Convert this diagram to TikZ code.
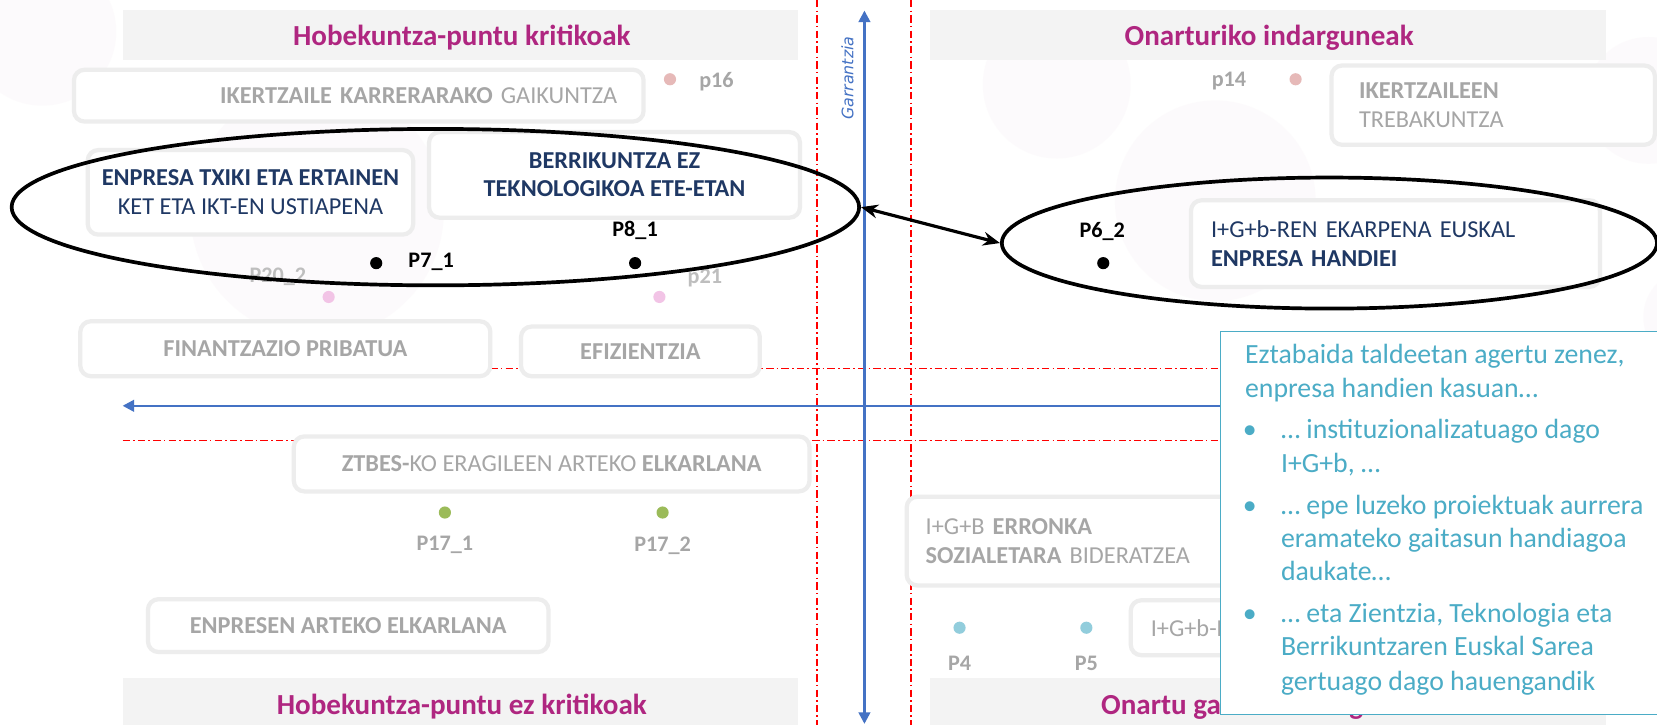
\documentclass[tikz,border=0pt]{standalone}
\usepackage{fontspec}
\setmainfont{Carlito}
\newfontfamily\gfont{DejaVu Sans}
\usetikzlibrary{arrows.meta,shapes.geometric}
\definecolor{mag}{RGB}{175,38,128}
\definecolor{hdrgray}{RGB}{243,243,243}
\definecolor{boxline}{RGB}{237,237,237}
\definecolor{txtgray}{RGB}{166,166,166}
\definecolor{lgray}{RGB}{190,190,190}
\definecolor{dblue}{RGB}{31,56,100}
\definecolor{axisblue}{RGB}{68,114,196}
\definecolor{tealc}{RGB}{75,172,198}
\definecolor{greendot}{RGB}{155,187,89}
\definecolor{lbluedot}{RGB}{146,205,220}
\definecolor{pinkdot}{RGB}{242,196,230}
\definecolor{rosedot}{RGB}{230,185,184}
\definecolor{blob}{RGB}{244,234,240}
\begin{document}
\begin{tikzpicture}[x=1pt,y=-1pt,
  hdr/.style={fill=hdrgray,draw=none},
  htext/.style={font=\bfseries\fontsize{27.5}{30}\selectfont,text=mag,inner sep=0},
  gbox/.style={draw=boxline,line width=4pt,rounded corners=10pt,fill=white,inner sep=0,
    font=\fontsize{23}{27}\selectfont},
  redline/.style={red,line width=1.2pt,dash pattern=on 7pt off 3pt on 1.5pt off 3pt},
  axis/.style={axisblue,line width=2.4pt},
  dotb/.style={circle,inner sep=0,minimum size=11.5pt,fill=black},
  dots/.style={circle,inner sep=0,minimum size=11.5pt},
  plab/.style={font=\bfseries\fontsize{21}{24}\selectfont,inner sep=0},
  ell/.style={draw=black,ellipse,line width=3.5pt,inner sep=0},
  cline/.style={anchor=mid west,inner sep=0,text=tealc,font=\fontsize{26.3}{30}\selectfont}
]
\useasboundingbox (0,0) rectangle (1568,686);
\fill[white] (0,0) rectangle (1568,686);
% faint background blobs
\foreach \bx/\by/\br in {40/30/70, 1150/190/95, 1560/95/60, 1600/300/45, 1580/560/55, 300/200/120, 1000/80/70}
  \fill[blob,opacity=0.2] (\bx,\by) circle[radius=\br];
% headers
\fill[hdr] (116,9) rectangle (755,57);
\fill[hdr] (880,9) rectangle (1520,57);
\fill[hdr] (116,642) rectangle (755,686);
\fill[hdr] (880,642) rectangle (1520,686);
\node[htext] (h1) at (437,36) {Hobekuntza-puntu kritikoak};
\node[htext] (h2) at (1201,36) {Onarturiko indarguneak};
\node[htext] (h3) at (437,669) {Hobekuntza-puntu ez kritikoak};
\node[htext] (h4) at (1201,669) {Onartu gabeko indarguneak};
% red dash-dot guide lines
\coordinate (rv1t) at (773,0); \coordinate (rv1b) at (773,686);
\coordinate (rv2t) at (862,0); \coordinate (rv2b) at (862,686);
\coordinate (rh1l) at (116,349); \coordinate (rh1r) at (1300,349);
\coordinate (rh2l) at (116,417); \coordinate (rh2r) at (1300,417);
\draw[redline] (rv1t) -- (rv1b);
\draw[redline] (rv2t) -- (rv2b);
\draw[redline] (rh1l) -- (rh1r);
\draw[redline] (rh2l) -- (rh2r);
% blue axes
\coordinate (vtop) at (818,10); \coordinate (vbot) at (818,685);
\coordinate (hleft) at (116,384); \coordinate (hright) at (1300,384);
\draw[axis,{Triangle[length=11pt,width=11pt]}-{Triangle[length=11pt,width=11pt]}] (vtop) -- (vbot);
\draw[axis,-{Triangle[length=11pt,width=11pt]}] (hright) -- (hleft);
\node[rotate=90,text=axisblue,font=\gfont\itshape\fontsize{15}{16}\selectfont,inner sep=0] (garr) at (802,74) {Garrantzia};
% boxes
\node[gbox,minimum width=539,minimum height=49,text width=489,align=right,text=txtgray] (b1) at (339.5,90.5)
  {\textbf{IKERTZAILE KARRERARAKO} GAIKUNTZA};
\node[gbox,minimum width=308,minimum height=80,align=center,text=dblue] (b2) at (237,182)
  {\textbf{ENPRESA TXIKI ETA ERTAINEN}\\KET ETA IKT-EN USTIAPENA};
\node[gbox,minimum width=351,minimum height=81,align=center,text=dblue,font=\bfseries\fontsize{23}{27}\selectfont] (b3) at (581.5,165.5)
  {BERRIKUNTZA EZ\\TEKNOLOGIKOA ETE-ETAN};
\node[gbox,minimum width=388,minimum height=52,text=txtgray,font=\bfseries\fontsize{23}{27}\selectfont] (b4) at (270,330)
  {FINANTZAZIO PRIBATUA};
\node[gbox,minimum width=226,minimum height=47,text=txtgray,font=\bfseries\fontsize{23}{27}\selectfont] (b5) at (606,332.5)
  {EFIZIENTZIA};
\node[gbox,minimum width=488,minimum height=52,text=txtgray] (b6) at (522,439)
  {\textbf{ZTBES-}KO ERAGILEEN ARTEKO \textbf{ELKARLANA}};
\node[gbox,minimum width=379,minimum height=50,text=txtgray,font=\bfseries\fontsize{23}{27}\selectfont] (b7) at (329.5,592)
  {ENPRESEN ARTEKO ELKARLANA};
\node[gbox,minimum width=306,minimum height=75,text width=254,align=left,text=txtgray] (b8) at (1413,99.5)
  {\textbf{IKERTZAILEEN}\\TREBAKUNTZA};
\node[gbox,minimum width=387,minimum height=82,text width=349,align=left,text=dblue] (b9) at (1320.5,230.5)
  {I+G+b-REN EKARPENA EUSKAL\\\textbf{ENPRESA HANDIEI}};
\node[gbox,minimum width=322,minimum height=84,text width=286,align=left,text=txtgray] (b10) at (1019,512)
  {I+G+B \textbf{ERRONKA}\\\textbf{SOZIALETARA} BIDERATZEA};
\node[gbox,minimum width=130,minimum height=52,text width=92,align=left,text=txtgray] (b11) at (1135,594)
  {I+G+b-R};
% coloured dots and labels
\node[dots,fill=rosedot] (d16) at (634,75) {};
\node[plab,text=txtgray] (l16) at (678,77) {p16};
\node[dots,fill=rosedot] (d14) at (1226,75) {};
\node[plab,text=txtgray] (l14) at (1163,77) {p14};
\node[plab,text=lgray] (l202) at (263,262) {P20\_2};
\node[dots,fill=pinkdot] (d202) at (311,281) {};
\node[plab,text=lgray] (l21) at (667,263) {p21};
\node[dots,fill=pinkdot] (d21) at (624,281) {};
\node[dots,fill=greendot] (d171) at (421,485) {};
\node[plab,text=txtgray] (l171) at (421,516) {P17\_1};
\node[dots,fill=greendot] (d172) at (627,485) {};
\node[plab,text=txtgray] (l172) at (627,516) {P17\_2};
\node[dots,fill=lbluedot] (d4) at (908,594) {};
\node[plab,text=txtgray] (l4) at (908,628) {P4};
\node[dots,fill=lbluedot] (d5) at (1028,594) {};
\node[plab,text=txtgray] (l5) at (1028,628) {P5};
% black points
\node[dotb] (d71) at (356,249) {};
\node[plab] (l71) at (408,248) {P7\_1};
\node[dotb] (d81) at (601,249) {};
\node[plab] (l81) at (601,218) {P8\_1};
\node[dotb] (d62) at (1044,249) {};
\node[plab] (l62) at (1043,219) {P6\_2};
% ellipses and arrow
\node[ell,minimum width=802,minimum height=148] (e1) at (412,196) {};
\node[ell,minimum width=620,minimum height=124] (e2) at (1258,230) {};
\draw[line width=3pt,{Stealth[length=16pt,width=13pt]}-{Stealth[length=16pt,width=13pt]}] (e1.east) -- (e2.west);
% callout
\fill[white] (1155,314) rectangle (1572,676);
\draw[tealc,line width=1.2pt] (1572,314) -- (1155,314) -- (1155,676) -- (1572,676);
\node[cline] (c1) at (1178,342) {Eztabaida taldeetan agertu zenez,};
\node[cline] (c2) at (1178,374) {enpresa handien kasuan…};
\node[cline] (k1) at (1176,413) {•};
\node[cline] (c3) at (1212,413) {… instituzionalizatuago dago};
\node[cline] (c4) at (1212,445) {I+G+b, …};
\node[cline] (k2) at (1176,484) {•};
\node[cline] (c5) at (1212,484) {… epe luzeko proiektuak aurrera};
\node[cline] (c6) at (1212,516) {eramateko gaitasun handiagoa};
\node[cline] (c7) at (1212,547) {daukate…};
\node[cline] (k3) at (1176,587) {•};
\node[cline] (c8) at (1212,587) {… eta Zientzia, Teknologia eta};
\node[cline] (c9) at (1212,618) {Berrikuntzaren Euskal Sarea};
\node[cline] (c10) at (1212,651) {gertuago dago hauengandik};
\end{tikzpicture}
\end{document}
